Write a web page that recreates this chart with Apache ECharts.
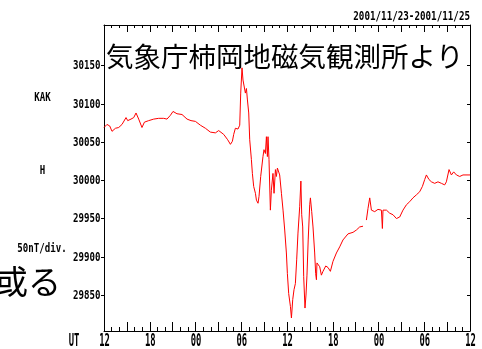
<!DOCTYPE html>
<html>
<head>
<meta charset="utf-8">
<script src="https://cdn.jsdelivr.net/npm/echarts@6/dist/echarts.min.js"></script>
<style>
  html, body { margin: 0; padding: 0; background: #fff; }
  #chart { width: 482px; height: 349px; }
</style>
</head>
<body>
<div id="chart"></div>
<script>
// KAK (Kakioka) H component, 2001/11/23 12UT - 2001/11/25 12UT
// hours elapsed since 2001/11/23 12:00 UT
const hours = [
  0,0.39,0.75,1.05,1.5,1.93,2.36,2.89,3.11,3.54,
  3.9,4.2,4.55,4.98,5.3,5.86,6.52,7.17,7.83,8.26,
  8.71,9.05,9.57,10.23,10.89,11.41,11.99,12.64,13.3,13.95,
  14.61,15.04,15.7,16.22,16.58,16.84,17.01,17.23,17.57,17.8,
  17.93,18.1,18.23,18.54,18.68,18.81,18.98,19.11,19.33,19.46,
  19.63,19.86,19.99,20.2,20.33,20.55,20.85,20.98,21.17,21.3,
  21.43,21.51,21.64,21.82,21.95,22.16,22.3,22.48,22.61,22.74,
  22.91,23.04,23.27,23.48,23.7,23.92,24.05,24.22,24.45,24.58,
  24.75,24.92,25.1,25.27,25.44,25.67,25.82,25.93,26.06,26.19,
  26.36,26.49,26.62,26.78,26.98,27.07,27.24,27.41,27.63,27.76,
  27.86,27.93,28.29,28.51,28.72,29.08,29.38,29.69,30.03,30.48,
  30.91,31.34,32.0,32.66,33.1,33.53,33.97,34.2,34.41,34.62,
  34.85,35.07,35.5,35.93,36.38,36.51,36.59,37.04,37.47,37.9,
  38.35,38.78,39.21,39.66,40.09,40.52,40.97,41.4,41.76,42.06,
  42.28,42.62,42.94,43.37,43.8,44.25,44.68,44.9,45.25,45.56,
  45.86,46.22,46.65,47.08,47.74,48
];
// H component in nT (null = missing data)
const hValues = [
  30069,30073,30071,30064,30068,30069,30073,30082,30078,30080,
  30082,30088,30080,30069,30076,30078,30080,30081,30081,30080,
  30085,30090,30087,30086,30080,30078,30077,30072,30068,30063,
  30062,30065,30060,30053,30047,30051,30060,30068,30067,30072,
  30114,30147,30131,30114,30120,30105,30088,30053,30027,30009,
  29992,29983,29974,29970,29979,30005,30031,30040,30035,30057,
  30031,30057,30027,29961,29987,30009,29983,30014,30005,30016,
  30014,30007,29983,29961,29935,29905,29878,29852,29835,29820,
  29844,29857,29865,29896,29931,29966,29999,29955,29939,29874,
  29833,29850,29876,29922,29968,29977,29959,29939,29905,29878,
  29870,29892,29887,29876,29881,29888,29886,29881,29894,29905,
  29913,29922,29930,29932,29935,29939,29940,null,29948,29963,
  29977,29961,29959,29962,29961,29937,29961,29961,29957,29955,
  29950,29952,29961,29968,29972,29977,29981,29985,29992,30001,
  30007,30001,29998,29996,29998,29996,29994,29998,30014,30007,
  30011,30007,30005,30007,30007,30007
];
const xTickHours = [0, 6, 12, 18, 24, 30, 36, 42, 48];
const xTickLabels = ['12','18','00','06','12','18','00','06','12'];
const yTickValues = [29850, 29900, 29950, 30000, 30050, 30100, 30150];

// narrow, plotter-like lettering: a bold mono face squeezed horizontally
const monoFont = '"DejaVu Sans Mono", "Liberation Mono", monospace';
const data = hours.map((h, i) => [h, hValues[i]]);

const chart = echarts.init(document.getElementById('chart'), null, { renderer: 'canvas' });

const xBase = {
  type: 'value', min: 0, max: 48, interval: 3,
  axisLine: { show: true, onZero: false, lineStyle: { color: '#000', width: 1 } },
  splitLine: { show: false },
  minorSplitLine: { show: false },
  axisLabel: { show: false }
};
const yBase = {
  type: 'value', min: 29803, max: 30203,
  axisLine: { show: true, onZero: false, lineStyle: { color: '#000', width: 1 } },
  splitLine: { show: false },
  axisLabel: { show: false, customValues: yTickValues }
};

function narrowText(text, x, y, size, sx, sy, align) {
  return {
    type: 'text', x: x, y: y, scaleX: sx, scaleY: sy, z: 10,
    style: {
      text: text, x: 0, y: 0, fill: '#000',
      font: 'bold ' + size + 'px ' + monoFont,
      align: align, verticalAlign: 'middle',
      textAlign: align, textVerticalAlign: 'middle'
    }
  };
}

chart.setOption({
  animation: false,
  backgroundColor: '#fff',
  grid: { left: 104, right: 12, top: 25, bottom: 18, containLabel: false },
  xAxis: [
    Object.assign({}, xBase, {
      position: 'bottom',
      axisTick: { show: true, inside: true, length: 9, lineStyle: { color: '#000', width: 1 } },
      minorTick: { show: true, splitNumber: 3, length: 4, lineStyle: { color: '#000', width: 1 } }
    }),
    Object.assign({}, xBase, {
      position: 'top',
      axisTick: { show: true, inside: true, length: 7, lineStyle: { color: '#000', width: 1 } },
      minorTick: { show: true, splitNumber: 3, length: 3, lineStyle: { color: '#000', width: 1 } }
    })
  ],
  yAxis: [
    Object.assign({}, yBase, {
      position: 'left',
      axisTick: { show: true, inside: false, length: 3, customValues: yTickValues, lineStyle: { color: '#000' } }
    }),
    Object.assign({}, yBase, {
      position: 'right',
      axisTick: { show: true, inside: true, length: 3, customValues: yTickValues, lineStyle: { color: '#000' } }
    })
  ],
  series: [{
    type: 'line',
    xAxisIndex: 0,
    yAxisIndex: 0,
    data: data,
    showSymbol: false,
    connectNulls: false,
    lineStyle: { color: '#ff0000', width: 1 },
    itemStyle: { color: '#ff0000' },
    z: 2
  }]
});

// tick labels placed through the axes' own scales
const gx = chart.convertToPixel({ yAxisIndex: 0 }, yTickValues[0]);
const leftX = chart.convertToPixel({ xAxisIndex: 0 }, 0);
const graphics = [];
yTickValues.forEach(v => {
  const py = chart.convertToPixel({ yAxisIndex: 0 }, v);
  graphics.push(narrowText(String(v), leftX - 3.5, py + 0.5, 13, 0.7, 1, 'right'));
});
xTickHours.forEach((h, i) => {
  const px = chart.convertToPixel({ xAxisIndex: 0 }, h);
  graphics.push(narrowText(xTickLabels[i], px + 0.5, 341.5, 17, 0.52, 1, 'center'));
});

graphics.push(
  narrowText('2001/11/23-2001/11/25', 470, 16.5, 13, 0.71, 1, 'right'),
  narrowText('KAK', 42.5, 97.5, 13, 0.7, 1, 'center'),
  narrowText('H', 42.5, 171, 13, 0.7, 1, 'center'),
  narrowText('50nT/div.', 42, 249, 13, 0.7, 1, 'center'),
  narrowText('UT', 74, 341.5, 17, 0.52, 1, 'center'),
  { type: 'text', x: 106, y: 57, z: 20,
    style: { text: '気象庁柿岡地磁気観測所より', x: 0, y: 0, fill: '#000',
             font: '27.5px "Noto Sans CJK JP", sans-serif',
             align: 'left', verticalAlign: 'middle', textAlign: 'left', textVerticalAlign: 'middle' } },
  { type: 'text', x: 61, y: 281, z: 20,
    style: { text: '或る', x: 0, y: 0, fill: '#000',
             font: '33px "Noto Sans CJK JP", sans-serif',
             align: 'right', verticalAlign: 'middle', textAlign: 'right', textVerticalAlign: 'middle' } }
);

chart.setOption({ graphic: graphics });
</script>
</body>
</html>
